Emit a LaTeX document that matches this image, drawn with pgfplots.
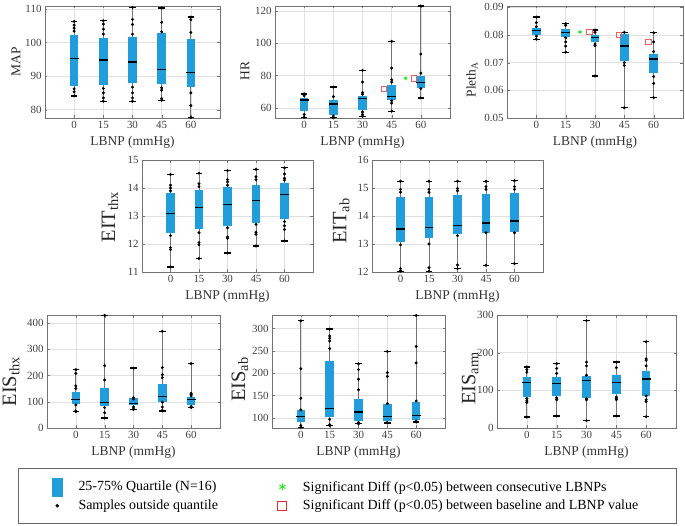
\documentclass[border=0pt]{standalone}
\usepackage{fontspec}
\setmainfont{Liberation Serif}
\usepackage{pgfplots}
\pgfplotsset{compat=1.18}
\definecolor{myblue}{RGB}{32,157,218}
\definecolor{sigred}{RGB}{235,40,40}
\definecolor{siggreen}{RGB}{40,230,40}

\pgfplotsset{
  bp/.style={
    scale only axis,
    anchor=south west,
    xmin=-1, xmax=5,
    xtick={0,1,2,3,4},
    xticklabels={0,15,30,45,60},
    xlabel={LBNP (mmHg)},
    grid=major,
    major grid style={black!12, line width=0.4pt},
    axis line style={black!55},
    tick style={black!55},
    tick align=inside,
    major tick length=2.5bp,
    tick label style={font=\fontsize{11}{12}\selectfont, text=black!75},
    xlabel style={font=\fontsize{13.5}{15}\selectfont, text=black!80},
    ylabel style={font=\fontsize{13.5}{15}\selectfont, text=black!85},
    /pgf/number format/assume math mode=true,
    scaled y ticks=false,
  },
  biglab/.style={ylabel style={font=\fontsize{20.5}{22}\selectfont}},
}
% box: position, lower whisker, q1, median, q3, upper whisker
\newcommand{\bx}[6]{%
  \addplot[black!55, line width=0.7pt] coordinates {(#1,#2) (#1,#6)};
  \addplot[myblue, line width=8.5bp] coordinates {(#1,#3) (#1,#5)};
  \addplot[only marks, mark=-, mark size=4.4bp, mark options={line width=1.3bp}, black] coordinates {(#1,#4)};
  \addplot[only marks, mark=-, mark size=3.2bp, mark options={line width=1.3bp}, black] coordinates {(#1,#2) (#1,#6)};
}
\newcommand{\pts}[1]{\addplot[only marks, mark=*, mark size=1.3bp, black] coordinates {#1};}

\begin{document}
\begin{tikzpicture}
\path[use as bounding box] (0,0) rectangle (685bp,526bp);

% ---------- MAP
\begin{axis}[bp, at={(45bp,408bp)}, width=175bp, height=112bp,
  ymin=77.5, ymax=110.9, ytick={80,90,100,110},
  ylabel={MAP}, ylabel style={at={(axis description cs:-0.166,0.5)}, anchor=center}]
\bx{0}{84.1}{87.1}{95.3}{102.3}{106.3}
\bx{1}{82.5}{87.3}{94.8}{101.4}{106.5}
\bx{2}{82.5}{87.8}{94.2}{101.7}{110.5}
\bx{3}{82.8}{87.5}{91.9}{102.8}{110.3}
\bx{4}{77.6}{86.6}{91.0}{101.1}{107.6}
\pts{(0,106.3)(0,105.2)(0,104.3)(0,103.4)(0,86.2)(0,85.3)(0,84.1)
(1,106.5)(1,105.5)(1,104)(1,102.5)(1,86.3)(1,85)(1,83.5)(1,82.5)
(2,110.5)(2,106.9)(2,105.4)(2,102.5)(2,86.7)(2,85)(2,83.5)(2,82.5)
(3,110.3)(3,106)(3,103.2)(3,86.5)(3,85.8)(3,83.3)(3,82.8)
(4,107.6)(4,106.8)(4,103)(4,85)(4,81.2)(4,77.6)}
\end{axis}

% ---------- HR
\begin{axis}[bp, at={(275bp,408bp)}, width=175bp, height=112bp,
  ymin=53.8, ymax=123, ytick={60,80,100,120},
  ylabel={HR}, ylabel style={at={(axis description cs:-0.171,0.42)}, anchor=center}]
\bx{0}{54.2}{58.4}{64.9}{66.3}{68.7}
\bx{1}{53.9}{55.9}{62.5}{65.1}{72.9}
\bx{2}{54.9}{59.0}{66.0}{67.5}{83.2}
\bx{3}{58.0}{64.7}{67.2}{74.4}{101.2}
\bx{4}{66.2}{72.3}{75.8}{79.5}{123}
\pts{(0,68.7)(0,67.5)(0,56)(0,54.2)(1,72.9)(1,67)(1,55)(1,53.9)
(2,83.2)(2,76)(2,69.5)(2,68.5)(2,57.5)(2,56)(2,54.9)
(3,101.2)(3,84.6)(3,77.4)(3,76)(3,64.5)(3,63)(3,58)
(4,123)(4,93.3)(4,81.5)(4,72)(4,66.2)}
\addplot[only marks, mark=square, mark size=2.6bp, sigred!75, mark options={line width=0.7pt}] coordinates {(2.73,72)(3.75,78.3)};
\addplot[only marks, mark=asterisk, mark size=2bp, siggreen, mark options={line width=0.8pt}] coordinates {(3.48,78.3)};
\end{axis}

% ---------- Pleth
\begin{axis}[bp, at={(507bp,408bp)}, width=176bp, height=112bp,
  ymin=0.05, ymax=0.0905, ytick={0.05,0.06,0.07,0.08,0.09},
  yticklabel style={/pgf/number format/fixed, /pgf/number format/precision=2, /pgf/number format/fixed zerofill},
  ylabel={Pleth\textsubscript{A}}, ylabel style={at={(axis description cs:-0.199,0.34)}, anchor=center}]
\bx{0}{0.0785}{0.0800}{0.0816}{0.0824}{0.0865}
\bx{1}{0.0738}{0.0794}{0.0810}{0.0820}{0.0841}
\bx{2}{0.0652}{0.0774}{0.0792}{0.0800}{0.0818}
\bx{3}{0.0537}{0.0706}{0.0760}{0.0803}{0.0810}
\bx{4}{0.0574}{0.0662}{0.0713}{0.0731}{0.0808}
\pts{(0,0.0865)(0,0.0845)(0,0.0830)(0,0.0796)(0,0.0785)
(1,0.0841)(1,0.0835)(1,0.0790)(1,0.0775)(1,0.0760)(1,0.0738)
(2,0.0818)(2,0.0810)(2,0.0768)(2,0.0762)(2,0.0652)
(3,0.0810)(3,0.0700)(3,0.0690)(3,0.0537)
(4,0.0808)(4,0.0775)(4,0.0740)(4,0.0650)(4,0.0625)(4,0.0574)}
\addplot[only marks, mark=square, mark size=2.6bp, sigred!75, mark options={line width=0.7pt}] coordinates {(1.81,0.0811)(2.80,0.0801)(3.82,0.0776)};
\addplot[only marks, mark=asterisk, mark size=2bp, siggreen, mark options={line width=0.8pt}] coordinates {(1.49,0.0811)};
\end{axis}

% ---------- EIT thx
\begin{axis}[bp, biglab, at={(142bp,254bp)}, width=171bp, height=112bp,
  ymin=11, ymax=15, ytick={11,12,13,14,15},
  ylabel={EIT\textsubscript{thx}}, ylabel style={at={(axis description cs:-0.187,0.49)}, anchor=center}]
\bx{0}{11.18}{12.38}{13.1}{13.82}{14.48}
\bx{1}{11.48}{12.53}{13.3}{13.94}{14.53}
\bx{2}{11.68}{12.65}{13.42}{14.02}{14.62}
\bx{3}{11.93}{12.76}{13.56}{14.11}{14.67}
\bx{4}{12.11}{12.9}{13.78}{14.18}{14.72}
\pts{(0,14.48)(0,14.1)(0,14.0)(0,13.9)(0,12.3)(0,11.87)(0,11.8)(0,11.18)
(1,14.53)(1,14.15)(1,14.05)(1,12.4)(1,12.05)(1,11.97)(1,11.48)
(2,14.62)(2,14.3)(2,14.22)(2,14.1)(2,12.58)(2,12.25)(2,12.2)(2,11.68)
(3,14.67)(3,14.4)(3,14.3)(3,12.7)(3,12.42)(3,12.35)(3,11.93)
(4,14.72)(4,14.5)(4,14.35)(4,14.28)(4,12.8)(4,12.65)(4,12.52)(4,12.11)}
\end{axis}

% ---------- EIT ab
\begin{axis}[bp, biglab, at={(372bp,254bp)}, width=171bp, height=112bp,
  ymin=12, ymax=16, ytick={12,13,14,15,16},
  ylabel={EIT\textsubscript{ab}}, ylabel style={at={(axis description cs:-0.18,0.455)}, anchor=center}]
\bx{0}{12.03}{13.06}{13.54}{14.67}{15.24}
\bx{1}{12.03}{13.23}{13.6}{14.68}{15.24}
\bx{2}{12.12}{13.35}{13.66}{14.74}{15.24}
\bx{3}{12.24}{13.41}{13.75}{14.77}{15.24}
\bx{4}{12.3}{13.42}{13.82}{14.81}{15.26}
\pts{(0,15.24)(0,14.95)(0,14.85)(0,12.97)(0,12.12)(0,12.05)(0,12.03)
(1,15.24)(1,14.95)(1,14.85)(1,13.0)(1,12.15)(1,12.03)
(2,15.24)(2,14.98)(2,14.9)(2,13.3)(2,12.25)(2,12.12)
(3,15.24)(3,15.05)(3,14.95)(3,13.4)(3,12.24)
(4,15.26)(4,15.05)(4,14.95)(4,13.4)(4,12.3)}
\end{axis}

% ---------- EIS thx
\begin{axis}[bp, biglab, at={(47bp,98bp)}, width=173bp, height=113bp,
  ymin=0, ymax=430, ytick={0,100,200,300,400},
  ylabel={EIS\textsubscript{thx}}, ylabel style={at={(axis description cs:-0.208,0.41)}, anchor=center}]
\bx{0}{62}{91}{108}{136}{222}
\bx{1}{38}{82}{96}{152}{429}
\bx{2}{70}{86}{93}{113}{228}
\bx{3}{65}{100}{120}{168}{368}
\bx{4}{78}{89}{109}{118}{245}
\pts{(0,222)(0,208)(0,160)(0,150)(0,88)(0,65)(0,62)
(1,429)(1,237)(1,183)(1,78)(1,58)(1,38)
(2,228)(2,115)(2,110)(2,80)(2,72)(2,70)
(3,368)(3,230)(3,203)(3,192)(3,98)(3,80)(3,67)(3,65)
(4,245)(4,132)(4,128)(4,122)(4,82)(4,78)}
\end{axis}

% ---------- EIS ab
\begin{axis}[bp, biglab, at={(272bp,98bp)}, width=173bp, height=113bp,
  ymin=77.6, ymax=330, ytick={100,150,200,250,300},
  ylabel={EIS\textsubscript{ab}}, ylabel style={at={(axis description cs:-0.185,0.43)}, anchor=center}]
\bx{0}{79}{91}{104}{117}{317}
\bx{1}{83}{102}{121.6}{227}{298.5}
\bx{2}{87}{94}{113}{143}{221}
\bx{3}{89}{92.5}{103}{130.6}{248.5}
\bx{4}{91}{96}{106}{136.6}{329}
\pts{(0,317)(0,210)(0,144)(0,118)(0,83)(0,79)
(1,298.5)(1,283)(1,278)(1,272)(1,255)(1,97)(1,85)(1,83)
(2,221)(2,208)(2,186.6)(2,163)(2,90)(2,87)
(3,248.5)(3,201.5)(3,193)(3,132)(3,90)(3,89)
(4,329)(4,259.7)(4,223)(4,138)(4,93)(4,91)}
\end{axis}

% ---------- EIS arm
\begin{axis}[bp, biglab, at={(497bp,98bp)}, width=179bp, height=113bp,
  ymin=0, ymax=300, ytick={0,100,200,300},
  ylabel={EIS\textsubscript{arm}}, ylabel style={at={(axis description cs:-0.15,0.44)}, anchor=center}]
\bx{0}{29}{82.5}{120.7}{135.8}{162}
\bx{1}{32}{84}{118}{136}{171}
\bx{2}{19.5}{80}{127}{137.5}{285}
\bx{3}{32}{91}{121.6}{140}{175}
\bx{4}{30}{85}{130.4}{151.7}{229}
\pts{(0,162)(0,155)(0,148)(0,78)(0,72)(0,68)(0,29)
(1,171)(1,158)(1,145)(1,80)(1,75)(1,32)
(2,285)(2,175)(2,165)(2,140)(2,78)(2,75)(2,19.5)
(3,175)(3,160)(3,82)(3,78)(3,75)(3,32)
(4,229)(4,183.7)(4,180)(4,165)(4,85)(4,75)(4,70)(4,30)}
\end{axis}

% ---------- Legend box
\begin{axis}[at={(18bp,3bp)}, anchor=south west, scale only axis, width=658bp, height=55bp,
  xmin=0, xmax=1, ymin=0, ymax=1, ticks=none,
  axis line style={black!60, line width=0.8pt},
  legend columns=2, legend cell align=left,
  legend style={draw=none, fill=none, at={(axis description cs:0.047,0.5)}, anchor=west,
    font=\fontsize{14}{16}\selectfont, row sep=2bp,
    /tikz/every odd column/.append style={column sep=14bp},
    /tikz/every even column/.append style={column sep=58bp}}]
\addlegendimage{legend image code/.code={\fill[myblue] (0.3cm-5bp,-9bp) rectangle (0.3cm+5bp,9bp);}}
\addlegendentry{25-75\% Quartile (N=16)}
\addlegendimage{only marks, mark=asterisk, mark size=3.5bp, siggreen, mark options={line width=1pt}}
\addlegendentry{Significant Diff (p<0.05) between consecutive LBNPs}
\addlegendimage{only marks, mark=*, mark size=1.6bp, black}
\addlegendentry{Samples outside quantile}
\addlegendimage{only marks, mark=square, mark size=4.5bp, sigred, mark options={line width=1pt}}
\addlegendentry{Significant Diff (p<0.05) between baseline and LBNP value}
\end{axis}
\end{tikzpicture}
\end{document}
